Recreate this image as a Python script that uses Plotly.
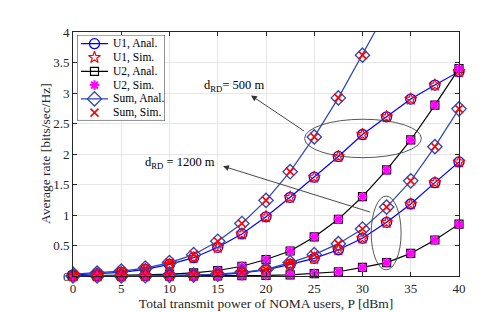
import plotly.graph_objects as go

# Transmit power (dBm)
power = [0, 2.5, 5, 7.5, 10, 12.5, 15, 17.5, 20, 22.5, 25, 27.5, 30, 32.5, 35, 37.5, 40]

# d_RD = 500 m
u1_500 = [0.02, 0.04, 0.06, 0.11, 0.19, 0.30, 0.47, 0.69, 0.97, 1.29, 1.62, 1.96, 2.32, 2.61, 2.90, 3.13, 3.35]
u2_500 = [0.003, 0.005, 0.01, 0.02, 0.03, 0.05, 0.09, 0.16, 0.27, 0.41, 0.64, 0.93, 1.30, 1.74, 2.23, 2.80, 3.40]
sum_500 = [0.03, 0.05, 0.08, 0.13, 0.22, 0.35, 0.57, 0.86, 1.24, 1.71, 2.28, 2.92, 3.62, 4.35, 5.13, 5.93, 6.75]

# d_RD = 1200 m
u1_1200 = [0.0, 0.0, 0.0, 0.005, 0.01, 0.015, 0.02, 0.05, 0.10, 0.19, 0.29, 0.43, 0.62, 0.88, 1.18, 1.53, 1.87]
u2_1200 = [0.0, 0.0, 0.0, 0.0, 0.0, 0.0, 0.002, 0.005, 0.01, 0.02, 0.04, 0.07, 0.14, 0.22, 0.37, 0.59, 0.85]
sum_1200 = [0.0, 0.0, 0.0, 0.005, 0.01, 0.015, 0.03, 0.06, 0.11, 0.22, 0.35, 0.53, 0.77, 1.13, 1.56, 2.12, 2.74]

x_ticks = [0, 5, 10, 15, 20, 25, 30, 35, 40]
y_ticks = [0, 0.5, 1, 1.5, 2, 2.5, 3, 3.5, 4]
y_tick_labels = ["0", "0.5", "1", "1.5", "2", "2.5", "3", "3.5", "4"]

legend_labels = ["U1, Anal.", "U1, Sim.", "U2, Anal.", "U2, Sim.", "Sum, Anal.", "Sum, Sim."]

FONT = "Liberation Serif"
BLUE = "#0000ff"
SUMBLUE = "#2a46b8"
INK = "#262626"

# style for each legend entry: (has_line, line colour, marker dict)
STY = {
    "U1, Anal.": (True, BLUE, dict(symbol="circle-open", size=10, color=BLUE, line=dict(width=1.3))),
    "U1, Sim.": (False, None, dict(symbol="star-open", size=9, color="red", line=dict(width=1.2))),
    "U2, Anal.": (True, "black", dict(symbol="square-open", size=8, color="black", line=dict(width=1.2))),
    "U2, Sim.": (False, None, dict(symbol="asterisk-open", size=8, color="#ff00ff", line=dict(width=2, color="#ff00ff"))),
    "Sum, Anal.": (True, SUMBLUE, dict(symbol="diamond-open", size=11, color=SUMBLUE, line=dict(width=1.3))),
    "Sum, Sim.": (False, None, dict(symbol="x-thin-open", size=8, color="red", line=dict(width=1.6, color="red"))),
}

fig = go.Figure()

groups = [(u1_500, u2_500, sum_500, True), (u1_1200, u2_1200, sum_1200, False)]

for u1, u2, s, is500 in groups:
    series = [("U1, Anal.", u1), ("U2, Anal.", u2), ("Sum, Anal.", s),
              ("U1, Sim.", u1), ("U2, Sim.", u2), ("Sum, Sim.", s)]
    for name, vals in series:
        has_line, lc, mk = STY[name]
        clip = is500 and name.startswith("Sum")
        fig.add_trace(go.Scatter(
            x=power, y=vals, mode="lines+markers" if has_line else "markers", name=name,
            line=dict(color=lc, width=1.2) if has_line else None,
            marker=mk, showlegend=False, cliponaxis=clip, xaxis="x", yaxis="y"))

# ----- custom legend (drawn on an auxiliary pixel-like axis pair) -----
LX0, LX1, LY0, LY1 = 69, 157, 27, 115
for i, name in enumerate(legend_labels):
    has_line, lc, mk = STY[name]
    yc = 36 + 14.2 * i
    if has_line:
        fig.add_trace(go.Scatter(x=[73, 100], y=[yc, yc], mode="lines", line=dict(color=lc, width=1.2),
                                 showlegend=False, xaxis="x2", yaxis="y2", hoverinfo="skip"))
    fig.add_trace(go.Scatter(x=[86.5], y=[yc], mode="markers", marker=mk, showlegend=False,
                             xaxis="x2", yaxis="y2", hoverinfo="skip", cliponaxis=False))
    fig.add_annotation(x=103, y=yc, xref="x2", yref="y2", text=name, showarrow=False,
                       xanchor="left", yanchor="middle",
                       font=dict(family=FONT, size=11.5, color="black"))
fig.add_shape(type="rect", xref="x2", yref="y2", x0=LX0, x1=LX1, y0=LY0, y1=LY1,
              line=dict(color=INK, width=1), fillcolor="white", layer="below")

# Ellipses
fig.add_shape(type="circle", xref="x", yref="y", x0=24.0, x1=36.1, y0=1.94, y1=2.57,
              line=dict(color="#444444", width=0.9))
fig.add_shape(type="circle", xref="x", yref="y", x0=30.9, x1=34.0, y0=0.10, y1=1.31,
              line=dict(color="#444444", width=0.9))

# Arrows
fig.add_annotation(x=18.45, y=2.96, ax=24.1, ay=2.36, xref="x", yref="y", axref="x", ayref="y",
                   text="", showarrow=True, arrowhead=2, arrowsize=1.3, arrowwidth=0.9,
                   arrowcolor="#333333", standoff=0, startstandoff=0)
fig.add_annotation(x=15.55, y=1.80, ax=30.95, ay=1.04, xref="x", yref="y", axref="x", ayref="y",
                   text="", showarrow=True, arrowhead=2, arrowsize=1.3, arrowwidth=0.9,
                   arrowcolor="#333333", standoff=0, startstandoff=0)

# Labels
fig.add_annotation(x=16.65, y=3.11, xref="x", yref="y", text="d<sub>RD</sub>= 500 m", showarrow=False,
                   font=dict(family=FONT, size=12.5, color="black"))
fig.add_annotation(x=11.1, y=1.86, xref="x", yref="y", text="d<sub>RD</sub> = 1200 m", showarrow=False,
                   font=dict(family=FONT, size=12.5, color="black"))

# Y axis title placed at the vertical centre of the plot area
fig.add_annotation(x=(37 - 65) / 386, y=0.5, xref="paper", yref="paper", text="Average rate [bits/sec/Hz]",
                   textangle=-90, showarrow=False, xanchor="center", yanchor="middle",
                   font=dict(family=FONT, size=13.5, color=INK))

fig.update_layout(
    width=498, height=312,
    margin=dict(l=65, r=47, t=24, b=37),
    paper_bgcolor="white", plot_bgcolor="white",
    font=dict(family=FONT, size=12, color=INK),
    showlegend=False,
    xaxis=dict(domain=[0, 1], anchor="y", range=[0, 40], tickvals=x_ticks, ticks="inside", ticklen=4,
               tickcolor=INK, showline=True, linecolor=INK, linewidth=1, mirror="ticks",
               showgrid=True, gridcolor="#e6e6e6", gridwidth=1, zeroline=False,
               tickfont=dict(family=FONT, size=13, color=INK),
               title=dict(text="Total transmit power of NOMA users, P [dBm]", standoff=3,
                          font=dict(family=FONT, size=13.5, color=INK))),
    yaxis=dict(domain=[0, 1], anchor="x", range=[0, 4], tickvals=y_ticks, ticktext=y_tick_labels,
               ticks="inside", ticklen=4,
               tickcolor=INK, showline=True, linecolor=INK, linewidth=1, mirror="ticks",
               showgrid=True, gridcolor="#e6e6e6", gridwidth=1, zeroline=False,
               tickfont=dict(family=FONT, size=13, color=INK)),
    xaxis2=dict(domain=[(LX0 - 65) / 386, (LX1 - 65) / 386], range=[LX0, LX1], visible=False,
                fixedrange=True, anchor="y2"),
    yaxis2=dict(domain=[(275 - LY1) / 251, (275 - LY0) / 251], range=[LY1, LY0], visible=False,
                fixedrange=True, anchor="x2"),
)

fig.write_html("out.html")
